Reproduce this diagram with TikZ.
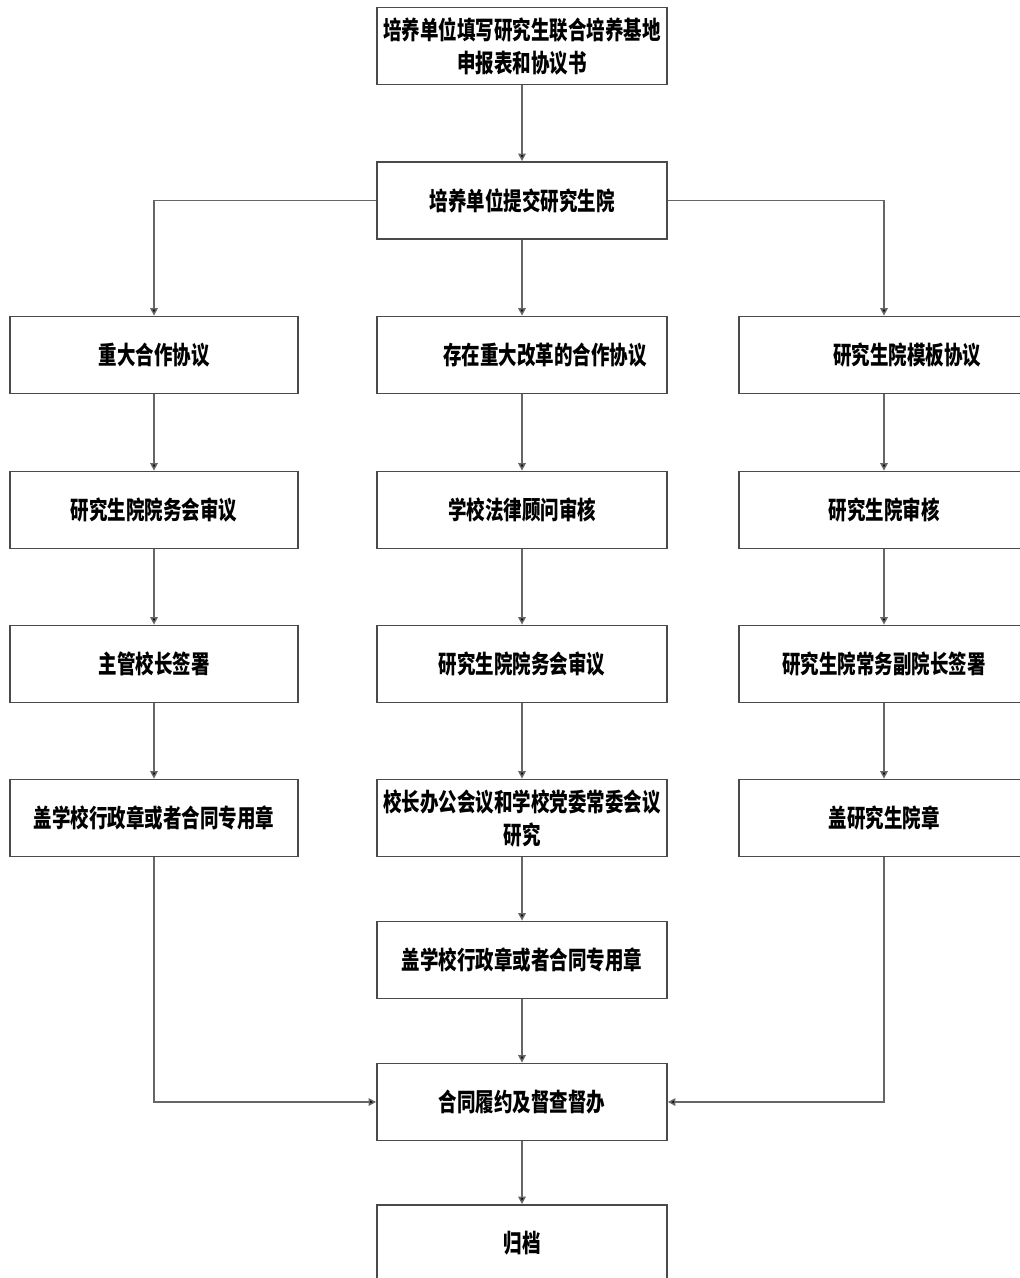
\documentclass[tikz,border=0pt]{standalone}
\usepackage{fontspec}
\newfontfamily\cjk[FakeStretch=0.74]{Noto Sans CJK SC}
\usetikzlibrary{arrows.meta}
\definecolor{boxline}{HTML}{4A4A4A}
\definecolor{conline}{HTML}{666666}
\tikzset{
  flowbox/.style={draw=boxline, line width=1.8pt, fill=white, minimum width=290pt, minimum height=77pt, inner sep=0pt, align=center,
    font=\cjk\bfseries\fontsize{25}{33}\selectfont},
  sidebox/.style={flowbox, minimum width=288pt},
  link/.style={draw=conline, line width=1.5pt, -{Triangle[width=7.5pt,length=7.5pt,fill=black]}},
}
\begin{document}
\begin{tikzpicture}[x=1pt,y=-1pt]
\useasboundingbox (0,0) rectangle (1020,1278);
\fill[white] (0,0) rectangle (1020,1278);
% centre column
\node[flowbox] (fill) at (522,46) {培养单位填写研究生联合培养基地\\申报表和协议书};
\node[flowbox] (submit) at (522,200.5) {培养单位提交研究生院};
\node[flowbox] (c1) at (522,355) {\hspace*{46pt}存在重大改革的合作协议};
\node[flowbox] (c2) at (522,510) {学校法律顾问审核};
\node[flowbox] (c3) at (522,664) {研究生院院务会审议};
\node[flowbox] (c4) at (522,818) {校长办公会议和学校党委常委会议\\研究};
\node[flowbox] (c5) at (522,960) {盖学校行政章或者合同专用章};
\node[flowbox] (perform) at (522,1102) {合同履约及督查督办};
\node[flowbox] (archive) at (522,1243.5) {归档};
% left column
\node[sidebox] (l1) at (154,355) {重大合作协议};
\node[sidebox] (l2) at (154,510) {研究生院院务会审议};
\node[sidebox] (l3) at (154,664) {主管校长签署};
\node[sidebox] (l4) at (154,818) {盖学校行政章或者合同专用章};
% right column
\node[flowbox] (r1) at (884,355) {\hspace*{46pt}研究生院模板协议};
\node[flowbox] (r2) at (884,510) {研究生院审核};
\node[flowbox] (r3) at (884,664) {研究生院常务副院长签署};
\node[flowbox] (r4) at (884,818) {盖研究生院章};
% connectors
\draw[link] (fill) -- (submit);
\draw[link] (submit) -- (c1);
\draw[link] (submit.west) -| (l1.north);
\draw[link] (submit.east) -| (r1.north);
\draw[link] (c1) -- (c2);
\draw[link] (c2) -- (c3);
\draw[link] (c3) -- (c4);
\draw[link] (c4) -- (c5);
\draw[link] (c5) -- (perform);
\draw[link] (perform) -- (archive);
\draw[link] (l1) -- (l2);
\draw[link] (l2) -- (l3);
\draw[link] (l3) -- (l4);
\draw[link] (l4.south) |- (perform.west);
\draw[link] (r1) -- (r2);
\draw[link] (r2) -- (r3);
\draw[link] (r3) -- (r4);
\draw[link] (r4.south) |- (perform.east);
\end{tikzpicture}
\end{document}
